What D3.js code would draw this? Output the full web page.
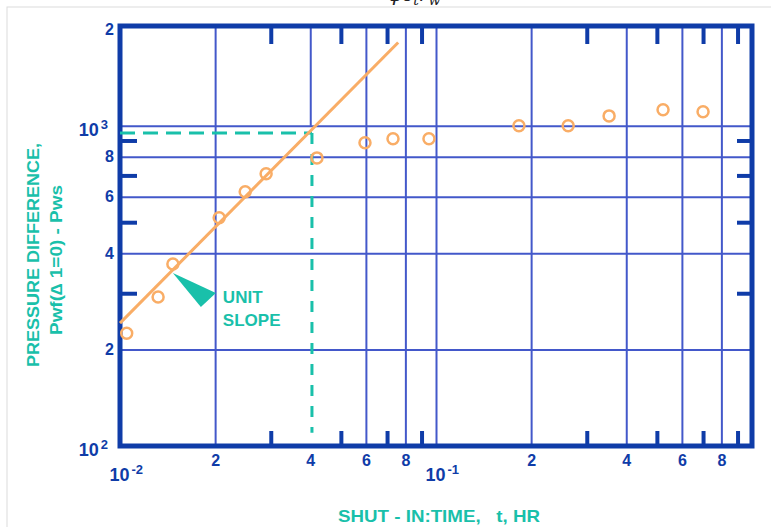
<!DOCTYPE html>
<html>
<head>
<meta charset="utf-8">
<script src="https://cdn.jsdelivr.net/npm/d3@7"></script>
<style>
body { margin: 0; background: #fff; }
svg { display: block; font-family: "Liberation Sans", Arial, sans-serif; font-weight: bold; }
</style>
</head>
<body>
<svg id="chart" width="771" height="527"></svg>
<script>
// shut-in time (hr) and pressure difference
var shutTime = [0.0105, 0.0132, 0.0147, 0.0206, 0.0249, 0.029, 0.042, 0.0596, 0.0731, 0.095, 0.183, 0.262, 0.353, 0.523, 0.70];
var pressDiff = [225, 292, 370, 516, 622, 708, 794, 885, 911, 911, 1000, 1000, 1074, 1122, 1106];

// unit slope line (two ends)
var slopeTime = [0.01, 0.0759];
var slopePress = [242, 1820];

// dashed read-off at end of unit slope
var readTime = 0.0405;
var readPress = 950;
var readBottom = 110;

// ticks
var xGrid = [0.02, 0.04, 0.06, 0.08, 0.1, 0.2, 0.4, 0.6, 0.8];
var xMinor = [0.03, 0.05, 0.07, 0.09, 0.3, 0.5, 0.7, 0.9];
var xLabels = [0.01, 0.02, 0.04, 0.06, 0.08, 0.1, 0.2, 0.4, 0.6, 0.8];
var yGrid = [200, 400, 600, 800, 1000];
var yMinor = [300, 500, 700, 900];
var yLabels = [100, 200, 400, 600, 800, 1000, 2000];

var blue = "#0f3ca8";
var gridBlue = "#4358ca";
var teal = "#19c0aa";
var orange = "#f9ad66";

var svg = d3.select("#chart");

var x = d3.scaleLog().domain([0.01, 1]).range([120, 752]);
var y = d3.scaleLog().domain([100, 2050]).range([446, 26]);

var pLeft = x.range()[0], pRight = x.range()[1];
var pBottom = y.range()[0], pTop = y.range()[1];

// light border of the pasted picture + cut off formula above it
svg.append("rect")
  .attr("x", 7).attr("y", 7).attr("width", 800).attr("height", 600)
  .attr("fill", "none").attr("stroke", "#dcdcdc").attr("stroke-width", 1);

var formula = svg.append("text")
  .attr("x", 388).attr("y", 1)
  .attr("font-family", "DejaVu Serif, serif")
  .attr("font-style", "italic").attr("font-weight", "normal")
  .attr("font-size", 20).attr("fill", "#222");
formula.append("tspan").text("φc");
formula.append("tspan").attr("dy", 4).attr("font-size", 14).text("t");
formula.append("tspan").attr("dy", -4).text("r");
formula.append("tspan").attr("dy", 4).attr("font-size", 14).text("w");

// grid lines
var gx = svg.append("g")
  .attr("transform", `translate(0,${pBottom})`)
  .call(d3.axisBottom(x).tickValues(xGrid).tickSize(-(pBottom - pTop)).tickFormat(""));
gx.select(".domain").remove();
gx.selectAll("line").attr("stroke", gridBlue).attr("stroke-width", 2);
// the 4x10^-2 grid line stops where the dashed read-off starts
gx.selectAll(".tick").filter(function(d) { return Math.abs(x(d) - x(readTime)) < 5; })
  .select("line").attr("y1", y(1000) - pBottom);

var gy = svg.append("g")
  .attr("transform", `translate(${pLeft},0)`)
  .call(d3.axisLeft(y).tickValues(yGrid).tickSize(-(pRight - pLeft)).tickFormat(""));
gy.select(".domain").remove();
gy.selectAll("line").attr("stroke", gridBlue).attr("stroke-width", 2);

// short inner ticks on all four sides
function minor(axis, tx, ty) {
  var g = svg.append("g").attr("transform", `translate(${tx},${ty})`).call(axis);
  g.select(".domain").remove();
  g.selectAll("line").attr("stroke", blue).attr("stroke-width", 4);
}
minor(d3.axisBottom(x).tickValues(xMinor).tickSize(18).tickFormat(""), 0, pTop);
minor(d3.axisTop(x).tickValues(xMinor).tickSize(15).tickFormat(""), 0, pBottom);
minor(d3.axisRight(y).tickValues(yMinor).tickSize(17).tickFormat(""), pLeft, 0);
minor(d3.axisLeft(y).tickValues(yMinor).tickSize(15).tickFormat(""), pRight, 0);

// frame
svg.append("rect")
  .attr("x", pLeft).attr("y", pTop)
  .attr("width", pRight - pLeft).attr("height", pBottom - pTop)
  .attr("fill", "none").attr("stroke", blue).attr("stroke-width", 5);

function isPow(d) { return Math.abs(Math.log10(d) - Math.round(Math.log10(d))) < 1e-9; }

function powText(sel) {
  sel.each(function(d) {
    var t = d3.select(this);
    t.text("");
    t.append("tspan").attr("font-size", 18).text("10");
    t.append("tspan").attr("font-size", 13).attr("dy", "-0.55em").attr("dx", 2).text(Math.round(Math.log10(d)));
  });
}

// x labels
var xl = svg.append("g")
  .attr("transform", `translate(0,${pBottom})`)
  .call(d3.axisBottom(x).tickValues(xLabels).tickSize(0).tickPadding(9).tickFormat(function(d) {
    return isPow(d) ? "" : Math.round(d / Math.pow(10, Math.floor(Math.log10(d)) ));
  }));
xl.select(".domain").remove();
xl.selectAll("text").attr("fill", blue).attr("font-size", 16).attr("font-weight", "bold").attr("font-family", null);
xl.selectAll(".tick").filter(isPow).select("text")
  .attr("text-anchor", "start").attr("x", -11).attr("y", 24)
  .call(powText);

// y labels
var yl = svg.append("g")
  .attr("transform", `translate(${pLeft},0)`)
  .call(d3.axisLeft(y).tickValues(yLabels).tickSize(0).tickPadding(6).tickFormat(function(d) {
    return isPow(d) ? "" : Math.round(d / Math.pow(10, Math.floor(Math.log10(d)) ));
  }));
yl.select(".domain").remove();
yl.selectAll("text").attr("fill", blue).attr("font-size", 16).attr("font-weight", "bold").attr("font-family", null);
yl.selectAll(".tick").filter(isPow).select("text")
  .attr("x", -12).attr("dy", "0.6em")
  .call(powText);

// dashed read-off
var readLine = d3.line().x(function(d) { return x(d[0]); }).y(function(d) { return y(d[1]); });
svg.append("path")
  .attr("d", readLine([[0.01, readPress], [readTime, readPress]]))
  .attr("fill", "none").attr("stroke", teal).attr("stroke-width", 3).attr("stroke-dasharray", "15,8");
svg.append("path")
  .attr("d", readLine([[readTime, readPress], [readTime, readBottom]]))
  .attr("fill", "none").attr("stroke", teal).attr("stroke-width", 3).attr("stroke-dasharray", "11,10");

// unit slope line
svg.append("path")
  .attr("d", readLine(slopeTime.map(function(t, i) { return [t, slopePress[i]]; })))
  .attr("fill", "none").attr("stroke", orange).attr("stroke-width", 3);

// data points
svg.selectAll("circle.pt")
  .data(shutTime)
  .join("circle")
  .attr("class", "pt")
  .attr("cx", function(d) { return x(d); })
  .attr("cy", function(d, i) { return y(pressDiff[i]); })
  .attr("r", 5.5)
  .attr("fill", "none")
  .attr("stroke", orange)
  .attr("stroke-width", 2.5);

// unit slope pointer
var px = x(shutTime[2]), py = y(pressDiff[2]) + 9;
svg.append("path")
  .attr("d", `M${px},${py} L${px + 43},${py + 20} L${px + 28},${py + 34} Z`)
  .attr("fill", teal);
svg.append("text").attr("x", px + 50).attr("y", py + 30)
  .attr("fill", teal).attr("font-size", 17).text("UNIT");
svg.append("text").attr("x", px + 50).attr("y", py + 53)
  .attr("fill", teal).attr("font-size", 17).text("SLOPE");

// axis titles
svg.append("text")
  .attr("transform", "translate(39,255) rotate(-90)")
  .attr("text-anchor", "middle").attr("fill", teal).attr("font-size", 17)
  .attr("textLength", 224).attr("lengthAdjust", "spacingAndGlyphs")
  .text("PRESSURE DIFFERENCE,");
svg.append("text")
  .attr("transform", "translate(62,260) rotate(-90)")
  .attr("text-anchor", "middle").attr("fill", teal).attr("font-size", 16)
  .attr("textLength", 150).attr("lengthAdjust", "spacingAndGlyphs")
  .text("Pwf(∆ 1=0) - Pws");
svg.append("text")
  .attr("x", 439).attr("y", 522)
  .attr("text-anchor", "middle").attr("fill", teal).attr("font-size", 17)
  .attr("textLength", 202).attr("lengthAdjust", "spacingAndGlyphs")
  .attr("xml:space", "preserve")
  .text("SHUT - IN:TIME,   t, HR");
</script>
</body>
</html>
